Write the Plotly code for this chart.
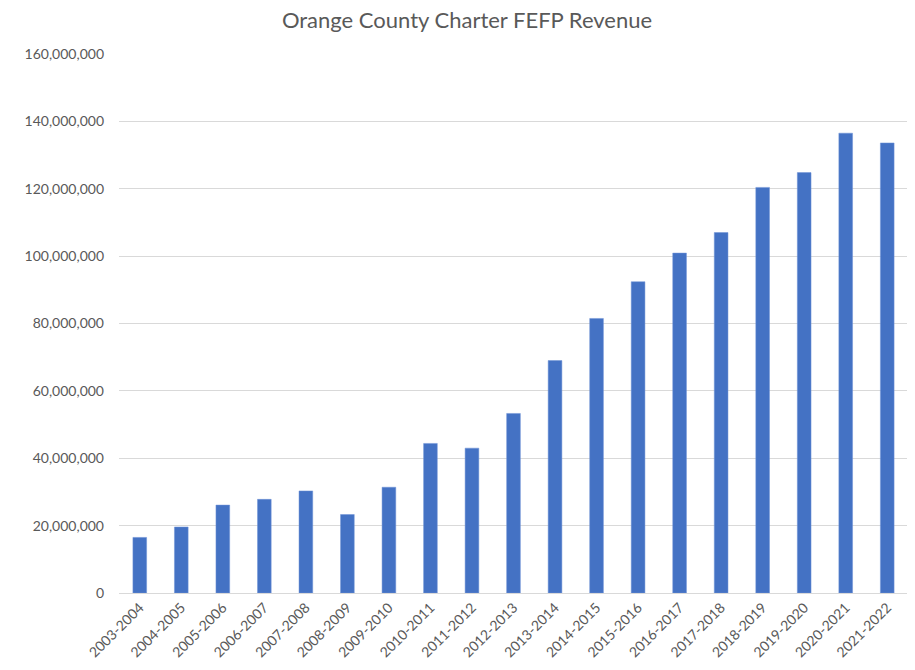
import plotly.graph_objects as go

years = ["2003-2004", "2004-2005", "2005-2006", "2006-2007", "2007-2008", "2008-2009",
         "2009-2010", "2010-2011", "2011-2012", "2012-2013", "2013-2014", "2014-2015",
         "2015-2016", "2016-2017", "2017-2018", "2018-2019", "2019-2020", "2020-2021",
         "2021-2022"]
revenue = [16.5e6, 19.6e6, 26.1e6, 27.8e6, 30.3e6, 23.3e6, 31.4e6, 44.4e6, 43.0e6,
           53.3e6, 69.0e6, 81.5e6, 92.4e6, 100.9e6, 107.0e6, 120.4e6, 124.8e6,
           136.5e6, 133.6e6]
y_ticks = [0, 20e6, 40e6, 60e6, 80e6, 100e6, 120e6, 140e6, 160e6]
y_tick_labels = ["0", "20,000,000", "40,000,000", "60,000,000", "80,000,000",
                 "100,000,000", "120,000,000", "140,000,000", "160,000,000"]

fig = go.Figure(go.Bar(x=years, y=revenue, marker=dict(color="#4472C4",
                line=dict(color="#6f93d6", width=0.5))))

font_family = "Lato, 'Open Sans', sans-serif"
# page has an 8px body margin, so the figure is drawn 8px in from top/left
fig.update_layout(
    width=907, height=662,
    margin=dict(l=111, r=7, t=46, b=77),
    paper_bgcolor="white", plot_bgcolor="white",
    bargap=0.67,
    showlegend=False,
    title=dict(text="Orange County Charter FEFP Revenue", x=459/907, xref="container",
               xanchor="center", y=1 - 5/662, yanchor="top",
               font=dict(family=font_family, size=22, color="#595959")),
    font=dict(family=font_family, color="#595959", size=14),
)
fig.update_xaxes(tickangle=-45, showgrid=False, showline=True, linecolor="#d9d9d9",
                 linewidth=1, ticks="", automargin=False,
                 tickfont=dict(size=14, color="#595959"))
fig.update_yaxes(range=[0, 160e6], tickvals=y_ticks, ticktext=y_tick_labels,
                 showgrid=True, gridcolor="#d9d9d9", gridwidth=1, zeroline=False,
                 showline=False, ticks="", ticklabelstandoff=14, automargin=False,
                 tickfont=dict(size=14, color="#595959"))

fig.write_html("out.html")
